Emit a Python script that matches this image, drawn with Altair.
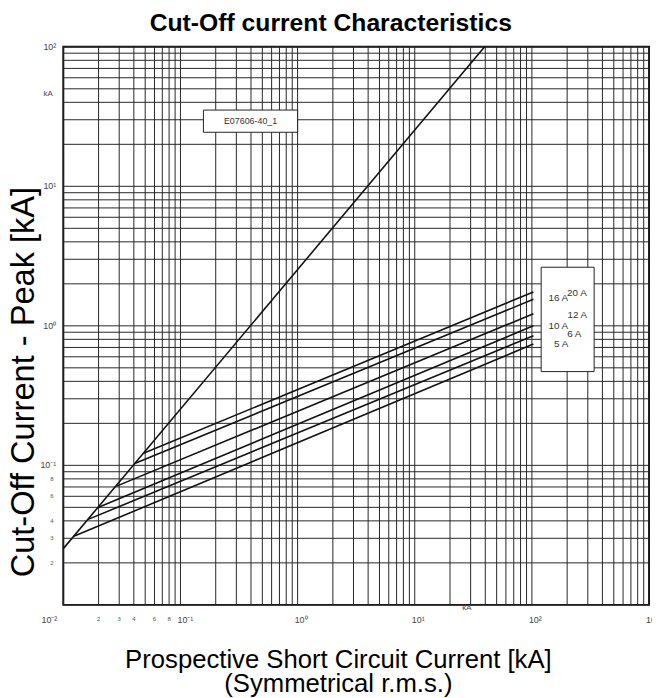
import altair as alt
import pandas as pd

# ---------------- data ----------------
# gridline positions (log decades, 1..9 in each decade)
decade_steps = [1, 2, 3, 4, 5, 6, 7, 8, 9]
x_decades = [0.01, 0.1, 1, 10, 100]
y_decades = [0.01, 0.1, 1, 10]
x_grid = [d * m for d in x_decades for m in decade_steps] + [1000]
y_grid = [d * m for d in y_decades for m in decade_steps] + [100]

# prospective peak (unlimited) line
diag_x = [0.01, 39.5]
diag_y = [0.0253, 100]

# fuse cut-off lines: start on the diagonal, end at 100 kA
fuse_names = ["5 A", "6 A", "10 A", "12 A", "16 A", "20 A"]
fuse_start_x = [0.0123, 0.0163, 0.0200, 0.0285, 0.0407, 0.0484]
fuse_start_y = [0.031, 0.041, 0.050, 0.071, 0.103, 0.122]
fuse_end_x = [103, 103, 103, 103, 103, 103]
fuse_end_y = [0.74, 0.85, 1.00, 1.22, 1.55, 1.75]

# tick labels
x_major_vals = [0.0069, 0.1, 1, 10, 100, 1000]
x_major_text = ["10⁻²", "10⁻¹", "10⁰", "10¹", "10²", "10³"]
x_minor_vals = [0.02, 0.03, 0.04, 0.06, 0.08]
x_minor_text = ["2", "3", "4", "6", "8"]
y_major_vals = [100, 10, 1, 0.1]
y_major_text = ["10²", "10¹", "10⁰", "10⁻¹"]
y_minor_vals = [0.08, 0.06, 0.04, 0.03, 0.02]
y_minor_text = ["8", "6", "4", "3", "2"]

# annotation label positions (data space)
fuse_label_x = [178, 230, 168, 244, 168, 242]
fuse_label_y = [0.74, 0.88, 0.99, 1.20, 1.585, 1.72]

title_text = "Cut-Off current Characteristics"

# ---------------- frames ----------------
rows = []
for sx, sy, ex, ey, n in zip(fuse_start_x, fuse_start_y, fuse_end_x, fuse_end_y, fuse_names):
    rows.append({"series": n, "o": 0, "x": sx, "y": sy})
    rows.append({"series": n, "o": 1, "x": ex, "y": ey})
for i, (dx, dy) in enumerate(zip(diag_x, diag_y)):
    rows.append({"series": "prospective", "o": i, "x": dx, "y": dy})
lines_df = pd.DataFrame(rows)

xs = alt.Scale(type="log", domain=[0.01, 1000], nice=False)
ys = alt.Scale(type="log", domain=[0.01, 100], nice=False)

FONT = "Liberation Sans, Arial, sans-serif"

xaxis = alt.Axis(labels=False, ticks=False, domain=False, grid=False,
                 title=["Prospective Short Circuit Current [kA]", "(Symmetrical r.m.s.)"],
                 titleFont=FONT, titleFontSize=26, titleFontWeight="normal",
                 titleColor="black", titleX=278, titleY=42, titleBaseline="top",
                 titleAlign="center", titleLineHeight=25)
yaxis = alt.Axis(labels=False, ticks=False, domain=False, grid=False,
                 title="Cut-Off Current - Peak [kA]",
                 titleFont=FONT, titleFontSize=33,
                 titleFontWeight="normal", titleColor="black",
                 titleX=-30, titleY=339, titleAngle=270, titleAlign="center",
                 titleBaseline="alphabetic")

def X(field):
    return alt.X(field, type="quantitative", scale=xs, axis=xaxis)

def Y(field):
    return alt.Y(field, type="quantitative", scale=ys, axis=yaxis)

grid_x = alt.Chart(pd.DataFrame({"v": x_grid})).mark_rule(
    color="#262626", strokeWidth=1).encode(x=X("v"))
grid_y = alt.Chart(pd.DataFrame({"v": y_grid})).mark_rule(
    color="#262626", strokeWidth=1).encode(y=Y("v"))

lines = alt.Chart(lines_df).mark_line(color="#111", strokeWidth=1.6).encode(
    x=X("x"), y=Y("y"), detail="series:N", order="o:Q")

# boxes
box_df = pd.DataFrame({
    "x": [0.157, 120], "x2": [1.0, 340],
    "y": [24.4, 0.47], "y2": [35.2, 2.63],
})
boxes = alt.Chart(box_df).mark_rect(fill="white", stroke="#222", strokeWidth=1).encode(
    x=X("x"), x2="x2", y=Y("y"), y2="y2")

box_text = alt.Chart(pd.DataFrame({"x": [0.397], "y": [29.3], "t": ["E07606-40_1"]})).mark_text(
    font=FONT, fontSize=9, color="#333", align="center", baseline="middle").encode(
    x=X("x"), y=Y("y"), text="t:N")

fuse_text = alt.Chart(pd.DataFrame({"x": fuse_label_x, "y": fuse_label_y, "t": fuse_names})).mark_text(
    font=FONT, fontSize=10, color="#333", align="center", baseline="middle").encode(
    x=X("x"), y=Y("y"), text="t:N")

# tick labels
xmaj = alt.Chart(pd.DataFrame({"x": x_major_vals, "y": [0.0078] * 6, "t": x_major_text})).mark_text(
    font=FONT, fontSize=9, color="#444", align="left", dx=-3, baseline="middle").encode(
    x=X("x"), y=Y("y"), text="t:N")
xmin = alt.Chart(pd.DataFrame({"x": x_minor_vals, "y": [0.0079] * 5, "t": x_minor_text})).mark_text(
    font=FONT, fontSize=6, color="#555", align="center", baseline="middle").encode(
    x=X("x"), y=Y("y"), text="t:N")
ymaj = alt.Chart(pd.DataFrame({"x": [0.0087] * 4, "y": y_major_vals, "t": y_major_text})).mark_text(
    font=FONT, fontSize=9, color="#444", align="right", baseline="middle").encode(
    x=X("x"), y=Y("y"), text="t:N")
ymin = alt.Chart(pd.DataFrame({"x": [0.0080] * 5, "y": y_minor_vals, "t": y_minor_text})).mark_text(
    font=FONT, fontSize=6, color="#555", align="center", baseline="middle").encode(
    x=X("x"), y=Y("y"), text="t:N")
units = alt.Chart(pd.DataFrame({"x": [0.00743, 27.9], "y": [46, 0.0095], "t": ["kA", "kA"]})).mark_text(
    font=FONT, fontSize=8, color="#444", align="center", baseline="middle").encode(
    x=X("x"), y=Y("y"), text="t:N")

title = alt.Chart(pd.DataFrame({"x": [1.92], "y": [129], "t": [title_text]})).mark_text(
    font=FONT, fontSize=25, fontWeight="bold", color="black", align="center",
    baseline="alphabetic").encode(x=X("x"), y=Y("y"), text="t:N")

chart = alt.layer(grid_x, grid_y, lines, boxes, box_text, fuse_text,
                  xmaj, xmin, ymaj, ymin, units, title).properties(
    width=593, height=565,
    autosize=alt.AutoSizeParams(type="none"),
    padding={"left": 56, "top": 35, "right": 3, "bottom": 90},
    background="white",
).configure_view(stroke="#111", strokeWidth=2)

chart.save("out.html", embed_options={"renderer": "svg", "actions": False})
